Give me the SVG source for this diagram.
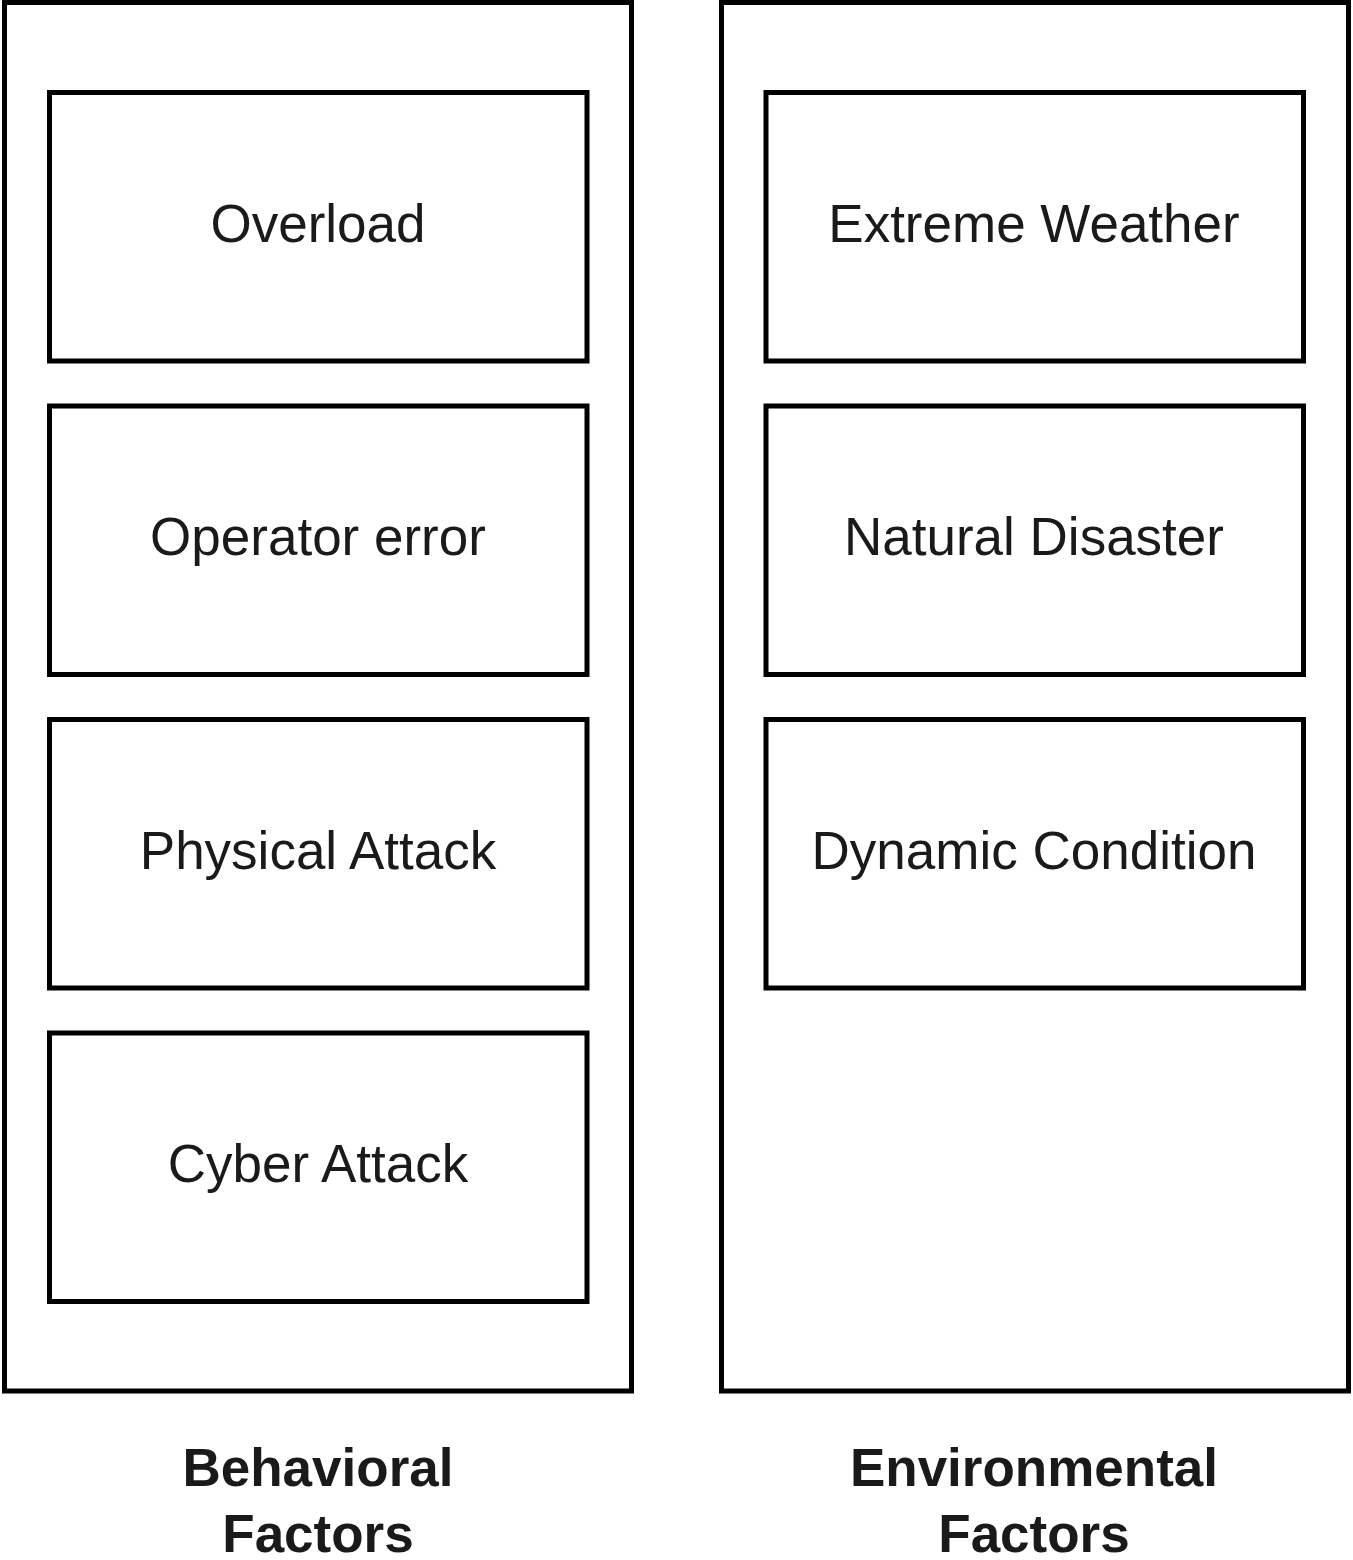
<svg xmlns="http://www.w3.org/2000/svg" width="1353" height="1560" viewBox="0 0 1353 1560">
  <style>
    .frame { fill: #ffffff; stroke: #000000; stroke-width: 5; }
    .box { fill: #ffffff; stroke: #000000; stroke-width: 5; }
    .item { font-family: "Liberation Sans", Arial, sans-serif; font-size: 53px; fill: #1a1a1a; text-anchor: middle; }
    .caption { font-family: "Liberation Sans", Arial, sans-serif; font-size: 53px; font-weight: bold; fill: #1a1a1a; text-anchor: middle; }
  </style>
  <rect width="1353" height="1560" fill="#ffffff"/>

  <!-- Behavioral factors column -->
  <g id="behavioral-factors">
    <rect class="frame" x="4.5" y="2.5" width="627" height="1388.5"/>
    <text class="caption" x="318" y="1486">Behavioral</text>
    <text class="caption" x="318" y="1552">Factors</text>
  </g>
  <g id="overload">
    <rect class="box" x="49.5" y="92.5" width="537.5" height="268.5"/>
    <text class="item" x="318" y="242">Overload</text>
  </g>
  <g id="operator-error">
    <rect class="box" x="49.5" y="406" width="537.5" height="268.5"/>
    <text class="item" x="318" y="555">Operator error</text>
  </g>
  <g id="physical-attack">
    <rect class="box" x="49.5" y="719.5" width="537.5" height="268.5"/>
    <text class="item" x="318" y="869">Physical Attack</text>
  </g>
  <g id="cyber-attack">
    <rect class="box" x="49.5" y="1033" width="537.5" height="268.5"/>
    <text class="item" x="318" y="1182">Cyber Attack</text>
  </g>

  <!-- Environmental factors column -->
  <g id="environmental-factors">
    <rect class="frame" x="721.5" y="2.5" width="627" height="1388.5"/>
    <text class="caption" x="1034" y="1486">Environmental</text>
    <text class="caption" x="1034" y="1552">Factors</text>
  </g>
  <g id="extreme-weather">
    <rect class="box" x="766" y="92.5" width="537.5" height="268.5"/>
    <text class="item" x="1034" y="242">Extreme Weather</text>
  </g>
  <g id="natural-disaster">
    <rect class="box" x="766" y="406" width="537.5" height="268.5"/>
    <text class="item" x="1034" y="555">Natural Disaster</text>
  </g>
  <g id="dynamic-condition">
    <rect class="box" x="766" y="719.5" width="537.5" height="268.5"/>
    <text class="item" x="1034" y="869">Dynamic Condition</text>
  </g>

  <g id="connectors"/>
</svg>
